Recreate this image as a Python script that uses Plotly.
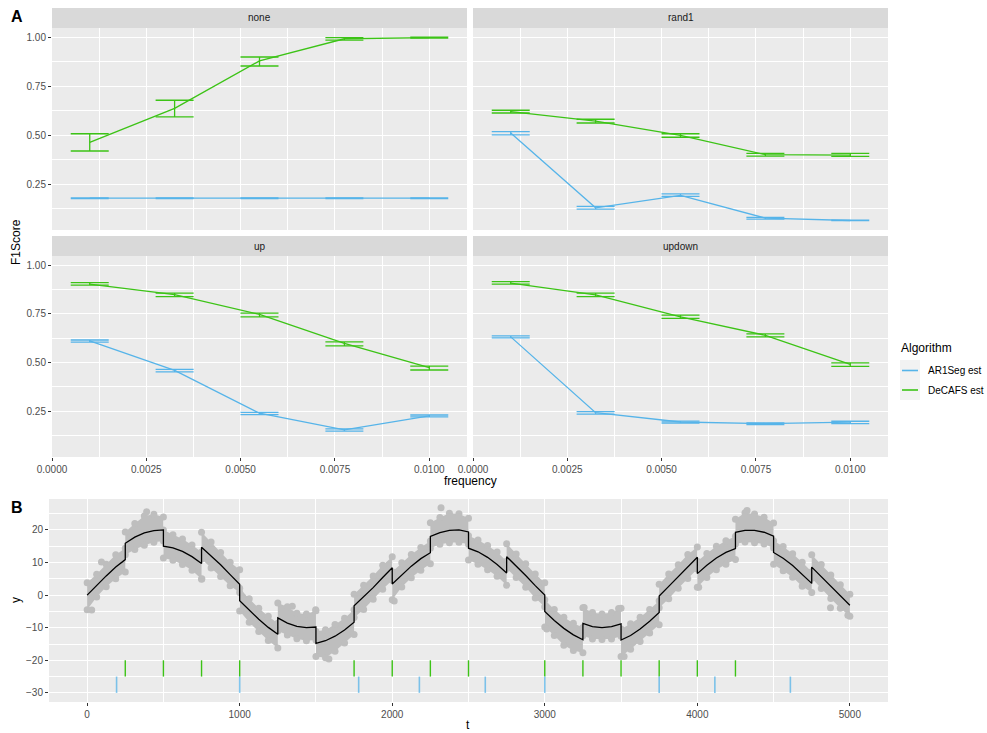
import plotly.graph_objects as go

W, H = 987, 733
FONT = "Liberation Sans, Arial, Helvetica, sans-serif"

# ---------------- Panel A data: F1 score by frequency ----------------
frequency = [0.001, 0.00325, 0.0055, 0.00775, 0.01]
scenarios = ["none", "rand1", "up", "updown"]
freq_ticks = [0.0, 0.0025, 0.005, 0.0075, 0.01]
freq_minor = [0.00125, 0.00375, 0.00625, 0.00875]
f1_ticks = [0.25, 0.50, 0.75, 1.00]
f1_minor = [0.125, 0.375, 0.625, 0.875]

# rows follow the order of `scenarios`
decafs_mean = [
    [0.463, 0.637, 0.879, 0.992, 0.998],
    [0.620, 0.572, 0.499, 0.400, 0.398],
    [0.903, 0.849, 0.747, 0.598, 0.474],
    [0.908, 0.847, 0.735, 0.640, 0.491],
]
decafs_low = [
    [0.419, 0.593, 0.853, 0.985, 0.995],
    [0.613, 0.562, 0.489, 0.393, 0.391],
    [0.898, 0.839, 0.735, 0.586, 0.462],
    [0.903, 0.839, 0.727, 0.632, 0.481],
]
decafs_high = [
    [0.507, 0.678, 0.899, 0.998, 1.000],
    [0.627, 0.581, 0.507, 0.407, 0.407],
    [0.910, 0.856, 0.754, 0.606, 0.482],
    [0.915, 0.856, 0.744, 0.647, 0.499],
]
ar1seg_mean = [
    [0.178, 0.178, 0.178, 0.178, 0.178],
    [0.511, 0.129, 0.192, 0.076, 0.064],
    [0.611, 0.460, 0.240, 0.155, 0.226],
    [0.632, 0.243, 0.195, 0.187, 0.194],
]
ar1seg_low = [
    [0.176, 0.176, 0.176, 0.176, 0.176],
    [0.501, 0.122, 0.187, 0.071, 0.063],
    [0.605, 0.452, 0.233, 0.148, 0.221],
    [0.627, 0.236, 0.190, 0.182, 0.187],
]
ar1seg_high = [
    [0.180, 0.180, 0.180, 0.180, 0.180],
    [0.518, 0.136, 0.200, 0.080, 0.066],
    [0.616, 0.465, 0.245, 0.160, 0.231],
    [0.637, 0.248, 0.200, 0.191, 0.199],
]

# ---------------- Panel B data: one simulated series ----------------
signal_t = [
    0, 62.5, 125, 187.5, 250, 250, 312.5, 375, 437.5, 500,
    500, 562.5, 625, 687.5, 750, 750, 812.5, 875, 937.5, 1000,
    1000, 1062.5, 1125, 1187.5, 1250, 1250, 1312.5, 1375, 1437.5, 1500,
    1500, 1562.5, 1625, 1687.5, 1750, 1750, 1812.5, 1875, 1937.5, 2000,
    2000, 2062.5, 2125, 2187.5, 2250, 2250, 2312.5, 2375, 2437.5, 2500,
    2500, 2562.5, 2625, 2687.5, 2750, 2750, 2812.5, 2875, 2937.5, 3000,
    3000, 3062.5, 3125, 3187.5, 3250, 3250, 3312.5, 3375, 3437.5, 3500,
    3500, 3562.5, 3625, 3687.5, 3750, 3750, 3812.5, 3875, 3937.5, 4000,
    4000, 4062.5, 4125, 4187.5, 4250, 4250, 4312.5, 4375, 4437.5, 4500,
    4500, 4562.5, 4625, 4687.5, 4750, 4750, 4812.5, 4875, 4937.5, 5000,
]
signal_y = [
    0.0, 3.0, 5.9, 8.6, 10.9, 15.9, 17.8, 19.1, 19.8, 20.0,
    15.0, 14.5, 13.4, 11.8, 9.7, 14.7, 12.1, 9.3, 6.3, 3.3,
    -1.7, -4.7, -7.4, -9.9, -12.0, -7.0, -8.6, -9.6, -10.0, -9.8,
    -14.8, -14.0, -12.6, -10.7, -8.3, -3.3, -0.6, 2.3, 5.4, 8.4,
    3.4, 6.3, 8.9, 11.2, 13.0, 18.0, 19.2, 19.9, 20.0, 19.4,
    14.4, 13.3, 11.6, 9.4, 6.8, 11.8, 9.0, 6.0, 2.9, 0.0,
    -5.0, -7.8, -10.2, -12.2, -13.7, -8.7, -9.7, -10.0, -9.7, -8.8,
    -13.8, -12.4, -10.4, -8.0, -5.3, -0.3, 2.7, 5.7, 8.7, 11.6,
    6.6, 9.2, 11.4, 13.1, 14.3, 19.3, 19.9, 19.9, 19.3, 18.1,
    13.1, 11.3, 9.1, 6.5, 3.6, 8.6, 5.6, 2.6, -0.4, -3.1,
]
# upper and lower edge of the observation cloud at the same t
cloud_hi = [
    3.8, 6.4, 9.5, 12.4, 14.4, 19.4, 22.0, 24.3, 24.8, 24.0,
    20.0, 18.5, 17.2, 15.4, 13.2, 19.3, 16.3, 13.1, 10.1, 7.8,
    2.1, -1.1, -4.0, -6.5, -8.6, -2.4, -3.6, -5.6, -5.8, -4.8,
    -11.2, -10.6, -9.0, -7.1, -4.5, 0.3, 3.0, 5.9, 9.2, 11.8,
    7.2, 9.9, 12.5, 14.6, 16.6, 22.2, 23.8, 25.1, 25.0, 23.6,
    18.2, 16.9, 15.2, 13.2, 10.4, 15.8, 12.6, 9.6, 6.5, 3.8,
    -1.4, -4.4, -6.8, -8.6, -9.9, -3.9, -5.3, -5.8, -5.3, -4.0,
    -10.4, -8.8, -6.8, -4.4, -1.7, 3.3, 6.5, 9.3, 12.5, 14.8,
    10.4, 12.8, 15.0, 16.7, 18.1, 23.3, 25.3, 24.9, 23.9, 22.1,
    16.7, 14.9, 12.7, 10.1, 7.2, 12.4, 9.4, 6.2, 3.2, 0.3,
]
cloud_lo = [
    -4.5, -0.6, 2.6, 5.0, 7.1, 12.4, 14.0, 15.3, 16.2, 16.6,
    11.4, 10.7, 9.4, 7.6, 4.9, 11.1, 8.3, 5.7, 2.9, 0.8,
    -4.9, -8.3, -11.2, -13.9, -16.2, -11.0, -12.2, -13.4, -14.0, -13.8,
    -18.8, -19.2, -17.2, -14.7, -12.1, -6.9, -4.4, -1.3, 1.8, 4.6,
    -1.4, 2.5, 5.3, 7.6, 9.6, 14.4, 15.6, 16.1, 16.2, 15.6,
    10.8, 9.5, 7.8, 5.8, 3.0, 8.2, 5.4, 2.4, -0.9, -3.6,
    -9.8, -12.4, -15.4, -17.0, -17.7, -12.5, -13.5, -13.6, -13.5, -12.6,
    -18.8, -16.6, -14.2, -11.6, -9.1, -3.9, -1.1, 2.1, 5.1, 8.0,
    2.4, 5.4, 7.8, 9.5, 10.9, 15.7, 16.3, 16.1, 15.7, 14.5,
    9.5, 7.5, 5.5, 2.7, 0.8, 5.2, 2.0, -1.0, -4.0, -6.5,
]
# isolated observations lying outside the main cloud
stray_t = [30, 94, 390, 752, 1345, 1498, 1585, 2013, 2320, 3013, 3258, 3484, 3520, 4009, 4326, 4873, 4987]
stray_y = [-4.6, 10.2, 25.6, 5.0, -3.4, -4.5, -19.6, -1.8, 26.8, -10.4, -3.8, -4.1, -18.8, 2.4, 26.0, -3.9, -6.2]

decafs_cpts = [250, 500, 750, 1000, 1750, 2000, 2250, 2500, 3000, 3250, 3500, 3750, 4000, 4250]
ar1seg_cpts = [193, 1000, 1780, 2178, 2610, 3000, 3750, 4115, 4610]
t_ticks = [0, 1000, 2000, 3000, 4000, 5000]
t_minor = [500, 1500, 2500, 3500, 4500]
y_ticks = [-30, -20, -10, 0, 10, 20]
y_minor = [-25, -15, -5, 5, 15, 25]

# ---------------- styling ----------------
BLUE = "#56B4E9"
GREEN = "#3CC316"
PANEL = "#EBEBEB"
STRIP = "#D9D9D9"
TICKFONT = dict(family=FONT, size=10, color="#4D4D4D")


def px(x):
    return x / W


def py(y):
    return 1 - y / H


fig = go.Figure()
layout = dict(
    width=W, height=H, margin=dict(l=0, r=0, t=0, b=0, autoexpand=False),
    paper_bgcolor="white", plot_bgcolor=PANEL, showlegend=False,
    font=dict(family=FONT, color="black"),
)
shapes, annotations = [], []

col_px = [(52, 467), (473, 888)]
row_px = [(28, 230), (256, 457)]
strip_px = [(8, 28), (236, 256)]


def grid_axis(**kw):
    base = dict(showgrid=True, gridcolor="white", gridwidth=1.4, zeroline=False,
                showline=False, tickfont=TICKFONT, ticklen=3, tickwidth=1,
                tickcolor="#333333", automargin=False)
    base.update(kw)
    return base


for i, name in enumerate(scenarios):
    n = i + 1
    row, col = divmod(i, 2)
    x0, x1 = col_px[col]
    y0, y1 = row_px[row]
    layout[f"xaxis{n}"] = grid_axis(
        domain=[px(x0), px(x1)], range=[0, 0.011], anchor=f"y{n}",
        tickmode="array", tickvals=freq_ticks,
        ticktext=[f"{v:.4f}" for v in freq_ticks],
        showticklabels=(row == 1), ticks="outside" if row == 1 else "",
        minor=dict(tickvals=freq_minor, showgrid=True, gridcolor="white", gridwidth=0.7, ticks=""),
    )
    layout[f"yaxis{n}"] = grid_axis(
        domain=[py(y1), py(y0)], range=[0.0155, 1.047], anchor=f"x{n}",
        tickmode="array", tickvals=f1_ticks,
        ticktext=[f"{v:.2f}" for v in f1_ticks],
        showticklabels=(col == 0), ticks="outside" if col == 0 else "",
        minor=dict(tickvals=f1_minor, showgrid=True, gridcolor="white", gridwidth=0.7, ticks=""),
    )
    s0, s1 = strip_px[row]
    shapes.append(dict(type="rect", xref="paper", yref="paper", x0=px(x0), x1=px(x1),
                       y0=py(s1), y1=py(s0), fillcolor=STRIP, line=dict(width=0), layer="below"))
    annotations.append(dict(text=name, xref="paper", yref="paper", x=px((x0 + x1) / 2),
                            y=py((s0 + s1) / 2), showarrow=False, xanchor="center", yanchor="middle",
                            font=dict(family=FONT, size=10, color="#1A1A1A")))

    for mean, low, high, color in (
        (ar1seg_mean[i], ar1seg_low[i], ar1seg_high[i], BLUE),
        (decafs_mean[i], decafs_low[i], decafs_high[i], GREEN),
    ):
        fig.add_trace(go.Scatter(
            x=frequency, y=mean, mode="lines", xaxis=f"x{n}", yaxis=f"y{n}",
            line=dict(color=color, width=1.3),
            error_y=dict(type="data", symmetric=False,
                         array=[h - m for h, m in zip(high, mean)],
                         arrayminus=[m - l for m, l in zip(mean, low)],
                         color=color, thickness=1.3, width=19),
        ))

# ---------------- Panel B ----------------
bx0, bx1, by0, by1 = 49, 888, 499, 702
layout["xaxis5"] = grid_axis(
    domain=[px(bx0), px(bx1)], range=[-250, 5250], anchor="y5",
    tickmode="array", tickvals=t_ticks, ticks="outside",
    minor=dict(tickvals=t_minor, showgrid=True, gridcolor="white", gridwidth=0.7, ticks=""),
)
layout["yaxis5"] = grid_axis(
    domain=[py(by1), py(by0)], range=[-32.8, 29.5], anchor="x5",
    tickmode="array", tickvals=y_ticks, ticks="outside",
    minor=dict(tickvals=y_minor, showgrid=True, gridcolor="white", gridwidth=0.7, ticks=""),
)

CLOUD = "#BEBEBE"
fig.add_trace(go.Scatter(
    x=signal_t + signal_t[::-1], y=cloud_hi + cloud_lo[::-1], mode="lines",
    fill="toself", fillcolor=CLOUD, line=dict(width=0, color=CLOUD),
    xaxis="x5", yaxis="y5", hoverinfo="skip",
))
fig.add_trace(go.Scatter(
    x=signal_t + signal_t + stray_t, y=cloud_hi + cloud_lo + stray_y, mode="markers",
    marker=dict(color=CLOUD, size=7, line=dict(width=0)),
    xaxis="x5", yaxis="y5",
))
fig.add_trace(go.Scatter(
    x=signal_t, y=signal_y, mode="lines", line=dict(color="black", width=1.3),
    xaxis="x5", yaxis="y5",
))


def rug(cpts, lo, hi):
    xs, ys = [], []
    for c in cpts:
        xs += [c, c, None]
        ys += [lo, hi, None]
    return xs, ys


gx, gy = rug(decafs_cpts, -25, -20)
fig.add_trace(go.Scatter(x=gx, y=gy, mode="lines", line=dict(color=GREEN, width=1.4),
                         xaxis="x5", yaxis="y5"))
bxs, bys = rug(ar1seg_cpts, -30, -25)
fig.add_trace(go.Scatter(x=bxs, y=bys, mode="lines", line=dict(color=BLUE, width=1.6),
                         opacity=0.75, xaxis="x5", yaxis="y5"))

# ---------------- titles, tags and legend ----------------
def label(text, x, y, size=12, angle=0, xanchor="center", bold=False, color="black"):
    annotations.append(dict(
        text=f"<b>{text}</b>" if bold else text, xref="paper", yref="paper",
        x=px(x), y=py(y), showarrow=False, xanchor=xanchor, yanchor="middle",
        textangle=angle, font=dict(family=FONT, size=size, color=color)))


label("F1Score", 16, 242, angle=-90)
label("frequency", 470, 481)
label("y", 16, 600, angle=-90)
label("t", 468, 725)
label("A", 9, 16, size=16, xanchor="left", bold=True)
label("B", 9, 507, size=16, xanchor="left", bold=True)

label("Algorithm", 899, 348, xanchor="left")
shapes.append(dict(type="rect", xref="paper", yref="paper", x0=px(900), x1=px(920),
                   y0=py(400), y1=py(360), fillcolor="#F2F2F2", line=dict(width=0)))
for key_y, color, text in ((370.5, BLUE, "AR1Seg est"), (390, GREEN, "DeCAFS est")):
    shapes.append(dict(type="line", xref="paper", yref="paper", x0=px(902), x1=px(918),
                       y0=py(key_y), y1=py(key_y), line=dict(color=color, width=1.6)))
    label(text, 926, key_y, size=10, xanchor="left")

layout["shapes"] = shapes
layout["annotations"] = annotations
fig.update_layout(**layout)
fig.write_html("out.html")
